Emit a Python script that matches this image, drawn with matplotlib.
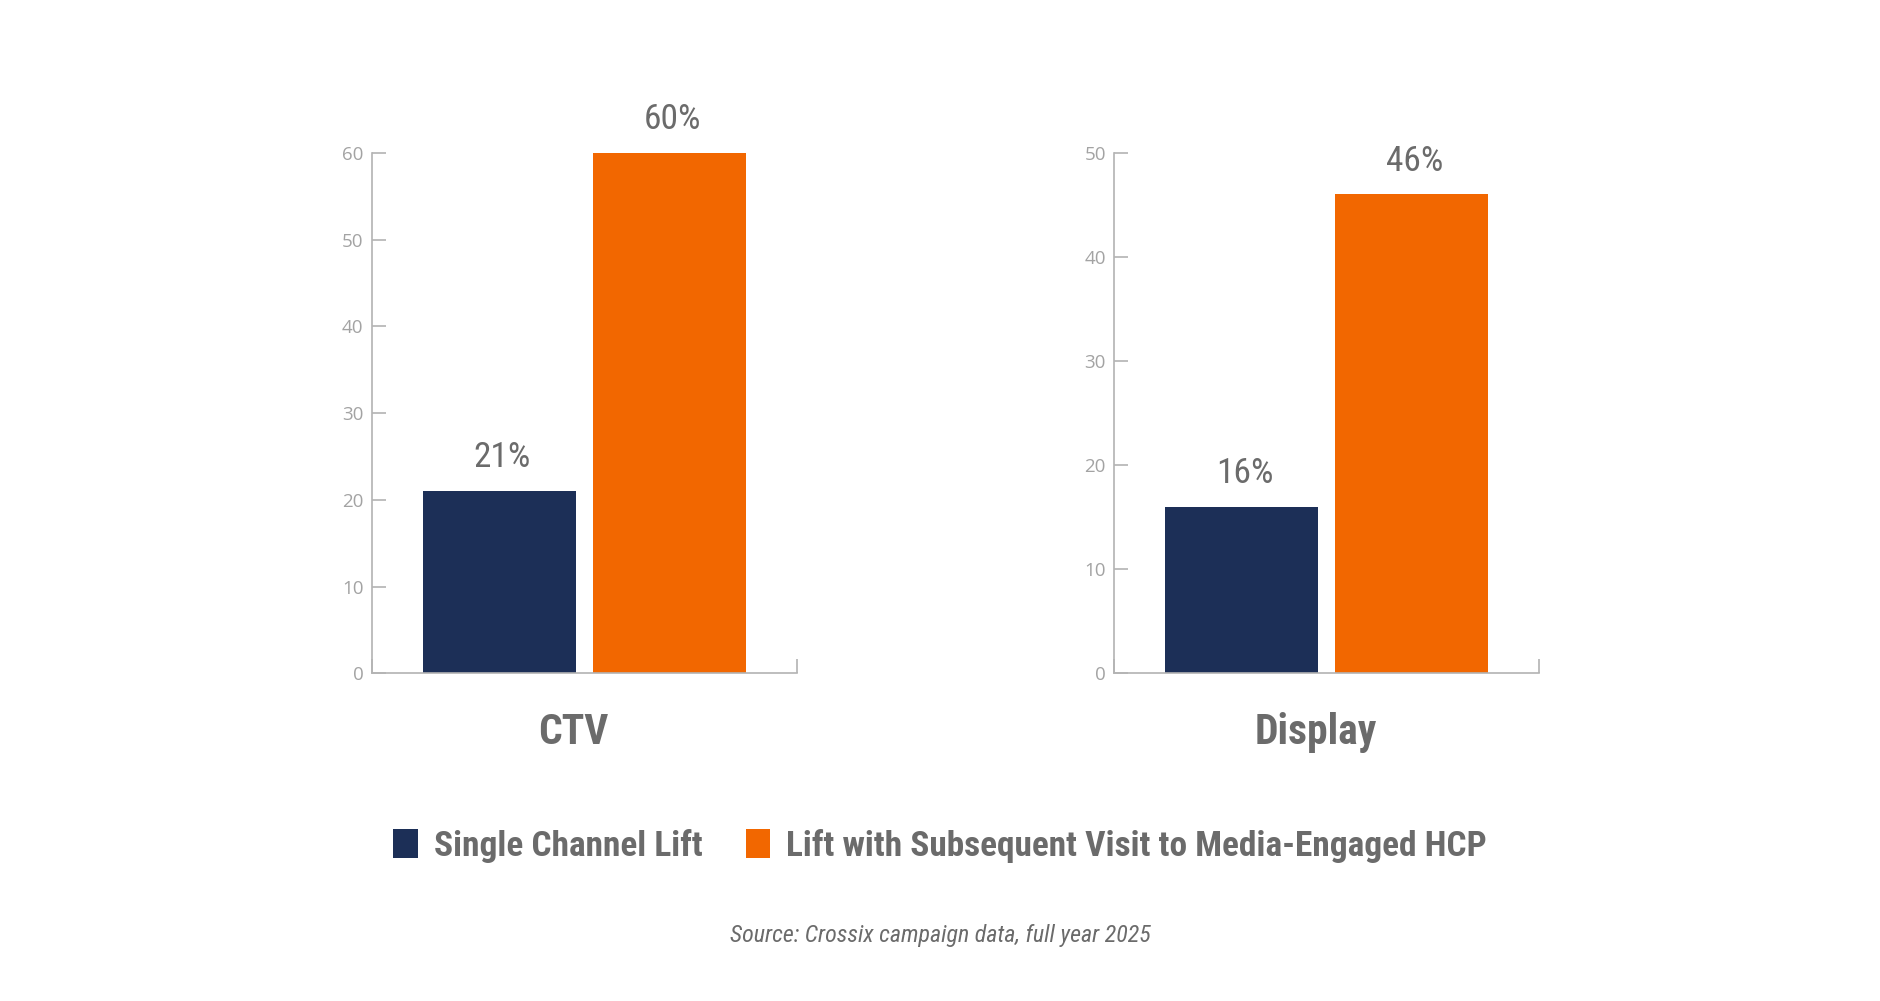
import matplotlib
matplotlib.use("Agg")
import matplotlib.pyplot as plt
from matplotlib import font_manager
from matplotlib.patches import Patch

# data
channels = ["CTV", "Display"]
series = ["Single Channel Lift", "Lift with Subsequent Visit to Media-Engaged HCP"]
single_lift = [21, 16]
subsequent_lift = [60, 46]
y_max = [60, 50]
source = "Source: Crossix campaign data, full year 2025"

navy = "#1c2f57"
orange = "#f26700"
text_grey = "#6b6b6b"
tick_grey = "#a3a3a3"
spine_grey = "#b3b3b3"

names = {f.name for f in font_manager.fontManager.ttflist}
cond = "Roboto"
for n in ["Roboto Condensed", "Liberation Sans Narrow"]:
    if n in names:
        cond = n
        break
tick_font = "Open Sans" if "Open Sans" in names else "DejaVu Sans"

fig = plt.figure(figsize=(18.8, 10.01), dpi=100)
axes = [fig.add_axes([0.1977, 0.3274, 0.2261, 0.520]),
        fig.add_axes([0.5927, 0.3274, 0.2261, 0.520])]

for i, ax in enumerate(axes):
    vals = [single_lift[i], subsequent_lift[i]]
    bars = ax.bar([0, 1], vals, width=0.9, color=[navy, orange])
    for b, v in zip(bars, vals):
        ax.annotate(f"{v}%", (b.get_x() + b.get_width() / 2, v),
                    xytext=(2, 24), textcoords="offset points",
                    ha="center", va="center", fontsize=25.5,
                    family=cond, color=text_grey)
    ax.set_xlim(-0.75, 1.75)
    ax.set_ylim(0, y_max[i])
    ax.set_yticks(range(0, y_max[i] + 1, 10))
    ax.set_xticks([-0.75, 1.75])
    ax.set_xticklabels(["", ""])
    ax.tick_params(axis="both", direction="in", length=10, width=1.2,
                   color=spine_grey)
    ax.tick_params(axis="y", labelsize=13.5, labelcolor=tick_grey, pad=6)
    for lab in ax.get_yticklabels():
        lab.set_family(tick_font)
    for s in ["top", "right"]:
        ax.spines[s].set_visible(False)
    for s in ["left", "bottom"]:
        ax.spines[s].set_color(spine_grey)
        ax.spines[s].set_linewidth(1.2)
    ax.text(0.475, -0.114, channels[i], transform=ax.transAxes,
            ha="center", va="center", fontsize=30, fontweight="bold",
            family=cond, color=text_grey)

handles = [Patch(facecolor=navy), Patch(facecolor=orange)]
leg = fig.legend(handles, series, loc="center", bbox_to_anchor=(0.5, 0.155),
                 ncol=2, frameon=False, handlelength=0.7, handleheight=0.9,
                 handletextpad=0.45, columnspacing=1.22,
                 prop={"family": cond, "weight": "bold", "size": 25.5})
for t in leg.get_texts():
    t.set_color(text_grey)

fig.text(0.5, 0.065, source, ha="center", va="center", fontsize=17.3,
         style="italic", family=cond, color=text_grey)

fig.savefig("out.png", dpi=100, facecolor="white")
